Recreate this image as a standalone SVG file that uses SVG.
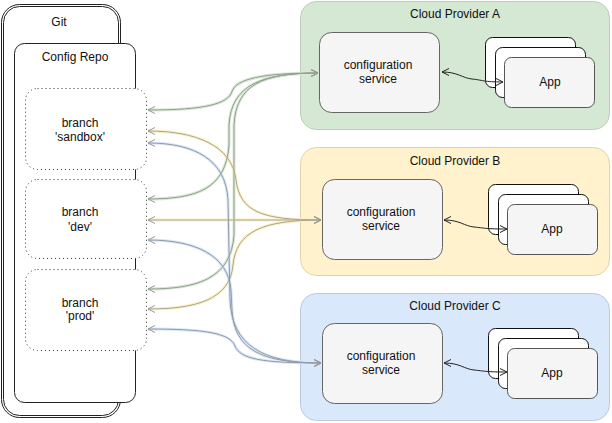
<svg xmlns="http://www.w3.org/2000/svg" width="612" height="423" viewBox="0 0 612 423">
<style>
  text { font-family: "Liberation Sans", Arial, sans-serif; font-size: 12px; fill: #111; text-anchor: middle; }
  .git { fill: #fff; stroke: #222; stroke-width: 1; }
  .repo { fill: #fff; stroke: #222; stroke-width: 1; }
  .branch { fill: #fff; stroke: #333; stroke-width: 1; stroke-dasharray: 1 3; }
  .cloudA { fill: #d5e8d4; stroke: #bccdba; }
  .cloudB { fill: #fff2cc; stroke: #e0d3ad; }
  .cloudC { fill: #dae8fc; stroke: #b9c9e0; }
  .svc { fill: #f5f5f5; stroke: #666; stroke-width: 1; }
  .appback { fill: #fff; stroke: #111; stroke-width: 1; }
  .appfront { fill: #f5f5f5; stroke: #555; stroke-width: 1; }
  .halo { fill: none; stroke-width: 3; }
  .hg { stroke: #dbe8d8; }
  .hy { stroke: #fbf0c6; }
  .hb { stroke: #dbe7f7; }
  .core { fill: none; stroke-width: 1; marker-start: url(#arr); marker-end: url(#arr); }
  .cg { stroke: #8fa08d; }
  .cy { stroke: #a9a690; }
  .cb { stroke: #909ba7; }
  .link { fill: none; stroke: #222; stroke-width: 1; marker-start: url(#arrk); marker-end: url(#arrk); }
</style>
<defs>
  <marker id="arr" viewBox="-9 -5 10 10" refX="0" refY="0" markerWidth="10" markerHeight="10" markerUnits="userSpaceOnUse" orient="auto-start-reverse">
    <path d="M -7 -3.5 L 0 0 L -7 3.5" fill="none" stroke="#999" stroke-width="1"/>
  </marker>
  <marker id="arrk" viewBox="-9 -5 10 10" refX="0" refY="0" markerWidth="10" markerHeight="10" markerUnits="userSpaceOnUse" orient="auto-start-reverse">
    <path d="M -7 -3.5 L 0 0 L -7 3.5" fill="none" stroke="#222" stroke-width="1"/>
  </marker>
</defs>
<rect width="612" height="423" fill="#fff"/>

<g id="git">
  <rect class="git" x="1.5" y="4.5" width="119" height="413" rx="18"/>
  <rect class="git" x="3.5" y="6.5" width="115" height="409" rx="16"/>
  <text x="59" y="26">Git</text>
</g>
<g id="config-repo">
  <rect class="repo" x="14.5" y="43.5" width="121" height="359" rx="10"/>
  <text x="75" y="61">Config Repo</text>
</g>
<g id="branch-sandbox">
  <rect class="branch" x="25.5" y="88.5" width="121" height="81" rx="12"/>
  <text x="80" y="127">branch</text>
  <text x="80" y="141">'sandbox'</text>
</g>
<g id="branch-dev">
  <rect class="branch" x="25.5" y="179.5" width="121" height="79" rx="12"/>
  <text x="80" y="216">branch</text>
  <text x="80" y="231">'dev'</text>
</g>
<g id="branch-prod">
  <rect class="branch" x="25.5" y="269.5" width="121" height="81" rx="12"/>
  <text x="80" y="307">branch</text>
  <text x="80" y="320">'prod'</text>
</g>

<g id="cloud-a">
  <rect class="cloudA" x="300.5" y="1.5" width="309" height="128" rx="16"/>
  <text x="455" y="18">Cloud Provider A</text>
</g>
<g id="service-a">
  <rect class="svc" x="319.5" y="32.5" width="120" height="80" rx="12"/>
  <text x="378" y="69">configuration</text>
  <text x="378" y="83">service</text>
</g>
<g id="app-a">
  <rect class="appback" x="485.5" y="37.5" width="90" height="50" rx="7"/>
  <rect class="appback" x="495.5" y="47.5" width="90" height="50" rx="7"/>
  <rect class="appfront" x="504.5" y="57.5" width="90" height="50" rx="7"/>
  <text x="550" y="86">App</text>
</g>

<g id="cloud-b">
  <rect class="cloudB" x="300.5" y="147.5" width="309" height="128" rx="16"/>
  <text x="455" y="165">Cloud Provider B</text>
</g>
<g id="service-b">
  <rect class="svc" x="322.5" y="179.5" width="120" height="80" rx="12"/>
  <text x="381" y="216">configuration</text>
  <text x="381" y="230">service</text>
</g>
<g id="app-b">
  <rect class="appback" x="488.5" y="184.5" width="90" height="50" rx="7"/>
  <rect class="appback" x="498.5" y="194.5" width="90" height="50" rx="7"/>
  <rect class="appfront" x="507.5" y="204.5" width="90" height="50" rx="7"/>
  <text x="552" y="233">App</text>
</g>

<g id="cloud-c">
  <rect class="cloudC" x="300.5" y="293.5" width="309" height="127" rx="16"/>
  <text x="455" y="310">Cloud Provider C</text>
</g>
<g id="service-c">
  <rect class="svc" x="322.5" y="323.5" width="120" height="80" rx="12"/>
  <text x="381" y="360">configuration</text>
  <text x="381" y="374">service</text>
</g>
<g id="app-c">
  <rect class="appback" x="488.5" y="328.5" width="90" height="50" rx="7"/>
  <rect class="appback" x="498.5" y="338.5" width="90" height="50" rx="7"/>
  <rect class="appfront" x="507.5" y="348.5" width="90" height="50" rx="7"/>
  <text x="552" y="377">App</text>
</g>

<g id="connectors">
  <!-- halos -->
  <path class="halo hg" d="M148,110 C205,110 228,104 232,91.5 C236,79 262,73 318,73"/>
  <path class="halo hg" d="M148,199 C195,199 226,190 229,145 L229,125 C231,85 262,73 318,73"/>
  <path class="halo hg" d="M148,289 C195,289 231,280 234,235 L234,125 C236,85 262,73 318,73"/>
  <path class="halo hy" d="M148,131 C195,131 232,145 236,180 C240,212 262,220 321,220"/>
  <path class="halo hy" d="M148,220 L321,220"/>
  <path class="halo hy" d="M148,309 C195,309 230,300 233,265 C236,232 262,220 321,220"/>
  <path class="halo hb" d="M148,143 C195,143 226,160 228,200 L230,300 C232,345 262,363 321,363"/>
  <path class="halo hb" d="M148,240 C195,240 228,255 231,290 L232,310 C234,350 262,363 321,363"/>
  <path class="halo hb" d="M148,329 C205,329 230,333 235,346 C240,359 262,363 321,363"/>
  <!-- cores -->
  <path class="core cg" d="M148,110 C205,110 228,104 232,91.5 C236,79 262,73 318,73"/>
  <path class="core cg" d="M148,199 C195,199 226,190 229,145 L229,125 C231,85 262,73 318,73"/>
  <path class="core cg" d="M148,289 C195,289 231,280 234,235 L234,125 C236,85 262,73 318,73"/>
  <path class="core cy" d="M148,131 C195,131 232,145 236,180 C240,212 262,220 321,220"/>
  <path class="core cy" d="M148,220 L321,220"/>
  <path class="core cy" d="M148,309 C195,309 230,300 233,265 C236,232 262,220 321,220"/>
  <path class="core cb" d="M148,143 C195,143 226,160 228,200 L230,300 C232,345 262,363 321,363"/>
  <path class="core cb" d="M148,240 C195,240 228,255 231,290 L232,310 C234,350 262,363 321,363"/>
  <path class="core cb" d="M148,329 C205,329 230,333 235,346 C240,359 262,363 321,363"/>
  <!-- service to app -->
  <path class="link" d="M442,72 C458,72 462,78 472,79 C482,80 484,82 503,82"/>
  <path class="link" d="M444,220 C460,220 464,226 474,227 C484,228 486,229 507,229"/>
  <path class="link" d="M444,363 C460,363 464,369 474,370 C484,371 486,372 507,372"/>
</g>
</svg>
